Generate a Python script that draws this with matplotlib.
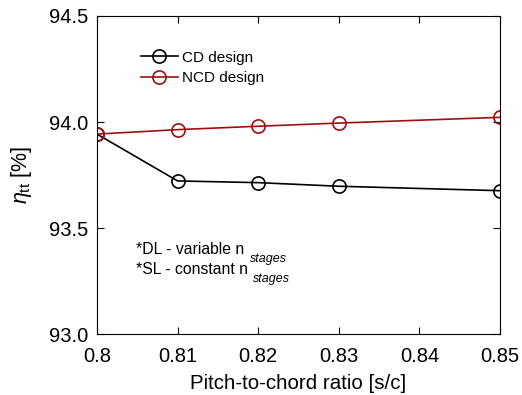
import matplotlib
matplotlib.use("Agg")
import matplotlib.pyplot as plt

plt.rcParams['font.family'] = ['Liberation Sans', 'DejaVu Sans']
plt.rcParams['mathtext.fontset'] = 'custom'
plt.rcParams['mathtext.rm'] = 'Liberation Sans'
plt.rcParams['mathtext.it'] = 'Liberation Sans:italic'

x_cd = [0.80, 0.81, 0.82, 0.83, 0.85]
y_cd = [93.943, 93.722, 93.714, 93.697, 93.676]
x_ncd = [0.80, 0.81, 0.82, 0.83, 0.85]
y_ncd = [93.943, 93.964, 93.980, 93.995, 94.022]
xticks = [0.80, 0.81, 0.82, 0.83, 0.84, 0.85]
xticklabels = ['0.8', '0.81', '0.82', '0.83', '0.84', '0.85']
yticks = [93.0, 93.5, 94.0, 94.5]
yticklabels = ['93.0', '93.5', '94.0', '94.5']

fig = plt.figure(figsize=(5.22, 3.95), dpi=100)
ax = fig.add_axes([0.1858, 0.1544, 0.7722, 0.8051])

red = '#9e1010'
ax.plot(x_cd, y_cd, '-o', color='black', lw=1.2, ms=9.5, mfc='none', mew=1.2, label='CD design')
ax.plot(x_ncd, y_ncd, '-o', color=red, lw=1.2, ms=9.5, mfc='none', mew=1.2, label='NCD design')

ax.set_xlim(0.80, 0.85)
ax.set_ylim(93.0, 94.5)
ax.set_xticks(xticks)
ax.set_xticklabels(xticklabels)
ax.set_yticks(yticks)
ax.set_yticklabels(yticklabels)
ax.tick_params(direction='in', top=True, right=True, labelsize=14.5, length=5, width=0.8)
ax.tick_params(axis='x', pad=9)
ax.tick_params(axis='y', pad=6)
for s in ax.spines.values():
    s.set_linewidth(0.8)

ax.set_xlabel('Pitch-to-chord ratio [s/c]', fontsize=14.8, labelpad=6)
ax.set_ylabel(r'$\eta_{\rm tt}$ [%]', fontsize=15.5, labelpad=11)

leg = ax.legend(loc='upper left', bbox_to_anchor=(0.083, 0.925), frameon=False,
                fontsize=11, handlelength=2.4, handletextpad=0.3, labelspacing=0.42,
                borderpad=0.2)

ax.text(0.097, 0.253, '*DL - variable n', transform=ax.transAxes, fontsize=11.3, va='baseline')
ax.text(0.38, 0.228, 'stages', transform=ax.transAxes, fontsize=9, style='italic', va='baseline')
ax.text(0.097, 0.19, '*SL - constant n', transform=ax.transAxes, fontsize=11.3, va='baseline')
ax.text(0.387, 0.162, 'stages', transform=ax.transAxes, fontsize=9, style='italic', va='baseline')

fig.savefig('out.png', dpi=100)
